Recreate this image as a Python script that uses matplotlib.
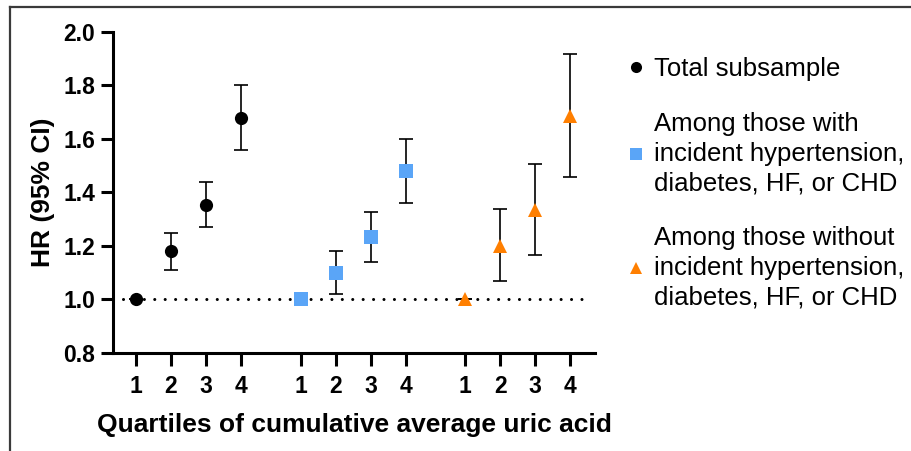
import matplotlib
matplotlib.use("Agg")
import matplotlib.pyplot as plt
from matplotlib.lines import Line2D

plt.rcParams['font.family'] = ['Liberation Sans', 'DejaVu Sans']

# quartile tick positions for each group
pos_total = [1, 2, 3, 4]
pos_with = [5.7, 6.7, 7.7, 8.7]
pos_without = [10.4, 11.4, 12.4, 13.4]
tick_labels = ["1", "2", "3", "4"] * 3

hr_total = [1.00, 1.18, 1.355, 1.68]
lo_total = [1.00, 1.11, 1.27, 1.56]
hi_total = [1.00, 1.25, 1.44, 1.80]

hr_with = [1.00, 1.10, 1.234, 1.482]
lo_with = [1.00, 1.02, 1.14, 1.36]
hi_with = [1.00, 1.18, 1.328, 1.60]

hr_without = [1.00, 1.20, 1.333, 1.686]
lo_without = [1.00, 1.07, 1.168, 1.457]
hi_without = [1.00, 1.34, 1.507, 1.916]

labels = ["Total subsample",
          "Among those with\nincident hypertension,\ndiabetes, HF, or CHD",
          "Among those without\nincident hypertension,\ndiabetes, HF, or CHD"]
colors = ["black", "#5AA5F7", "#FF7F00"]
markers = ["o", "s", "^"]

fig = plt.figure(figsize=(9.12, 4.51), dpi=100)
ax = fig.add_axes([0.1239, 0.2173, 0.5285, 0.7118])

groups = [(pos_total, hr_total, lo_total, hi_total),
          (pos_with, hr_with, lo_with, hi_with),
          (pos_without, hr_without, lo_without, hi_without)]

ax.axhline(1.0, xmin=0.02, xmax=0.977, color="black", lw=2.2,
           linestyle=(0, (0.01, 3.4)), dash_capstyle="round", zorder=1)

handles = []
for (x, y, lo, hi), c, m, lab in zip(groups, colors, markers, labels):
    err = [[v - l for v, l in zip(y, lo)], [h - v for v, h in zip(y, hi)]]
    ax.errorbar(x, y, yerr=err, fmt="none", ecolor="black", elinewidth=1.2,
                capsize=4.7, capthick=1.2, zorder=2)
    ms = 10.5 if m == "^" else 9.5
    ax.plot(x, y, linestyle="none", marker=m, color=c, markersize=ms,
            markeredgewidth=0, zorder=3)
    handles.append(Line2D([], [], linestyle="none", marker=m, color=c,
                          markersize=8, markeredgewidth=0, label=lab))

ax.set_xlim(0.343, 14.11)
ax.set_ylim(0.8, 2.0)
ax.set_yticks([0.8, 1.0, 1.2, 1.4, 1.6, 1.8, 2.0])
ax.set_yticklabels(["0.8", "1.0", "1.2", "1.4", "1.6", "1.8", "2.0"])
ax.set_xticks(pos_total + pos_with + pos_without)
ax.set_xticklabels(tick_labels)

for s in ["top", "right"]:
    ax.spines[s].set_visible(False)
for s in ["left", "bottom"]:
    ax.spines[s].set_linewidth(2.2)
ax.tick_params(axis="both", width=2.2, length=9, labelsize=16.5)
ax.tick_params(axis="y", pad=4)
ax.tick_params(axis="x", pad=7)
for t in ax.get_xticklabels() + ax.get_yticklabels():
    t.set_fontweight("bold")

ax.set_ylabel("HR (95% CI)", fontsize=19, fontweight="bold", labelpad=6)
ax.set_xlabel("Quartiles of cumulative average uric acid", fontsize=19,
              fontweight="bold", labelpad=11)

leg = fig.legend(handles=handles, loc="upper left", bbox_to_anchor=(0.672, 0.896),
                 frameon=False, fontsize=18.5, handletextpad=0.22, labelspacing=1.2,
                 handlelength=1.0, borderaxespad=0)
for t in leg.get_texts():
    t.set_linespacing(1.3)

# outer frame (cropped on right and bottom)
fig.add_artist(Line2D([0.011, 0.011], [0, 0.9845], color="#3a3a3a", lw=1.6))
fig.add_artist(Line2D([0.011, 1.0], [0.9845, 0.9845], color="#3a3a3a", lw=1.6))

fig.savefig("out.png", dpi=100)
